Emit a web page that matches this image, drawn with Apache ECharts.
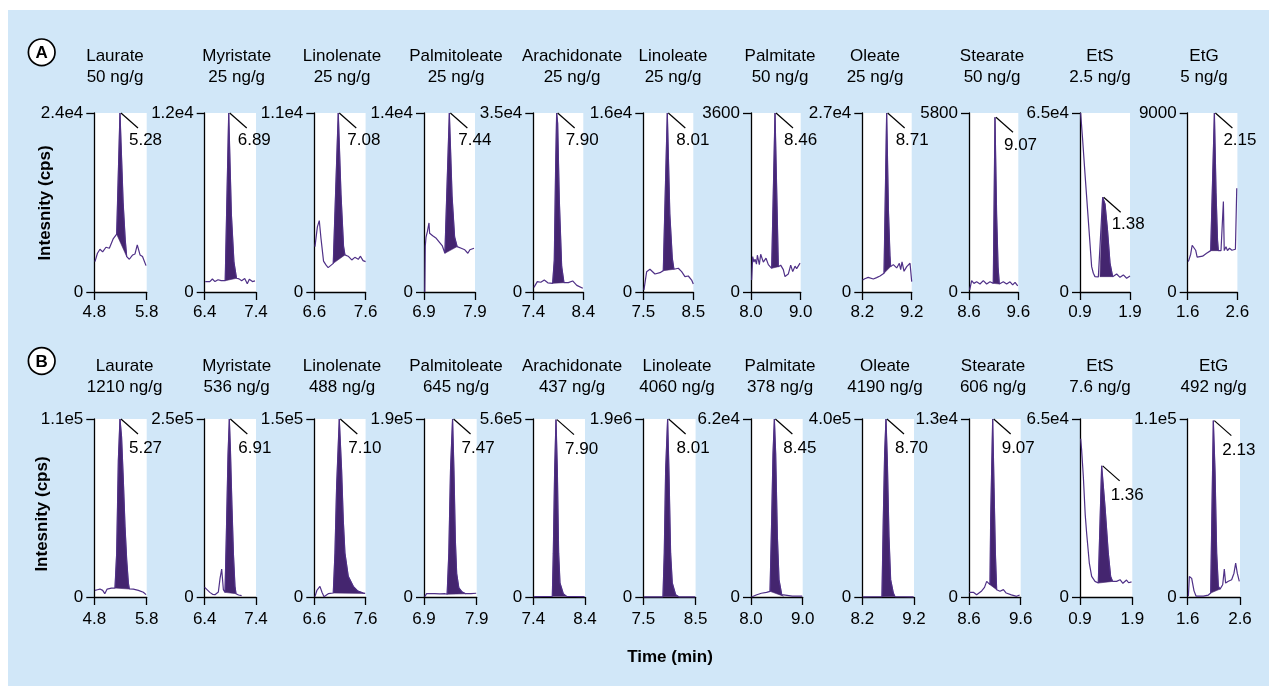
<!DOCTYPE html>
<html><head><meta charset="utf-8">
<script src="https://cdn.jsdelivr.net/npm/echarts@6/dist/echarts.min.js"></script>
<style>
html,body{margin:0;padding:0;background:#fff;width:1269px;height:686px;overflow:hidden}
#bg{position:absolute;left:8px;top:10px;right:0;bottom:0;background:#d1e7f8}
#chart{position:absolute;left:0;top:0;width:1269px;height:686px}
</style></head><body><div id="bg"></div><div id="chart"></div>
<script>
// ---------- data ----------
const compounds = ['Laurate','Myristate','Linolenate','Palmitoleate','Arachidonate','Linoleate','Palmitate','Oleate','Stearate','EtS','EtG'];
const concA = ['50 ng/g','25 ng/g','25 ng/g','25 ng/g','25 ng/g','25 ng/g','50 ng/g','25 ng/g','50 ng/g','2.5 ng/g','5 ng/g'];
const concB = ['1210 ng/g','536 ng/g','488 ng/g','645 ng/g','437 ng/g','4060 ng/g','378 ng/g','4190 ng/g','606 ng/g','7.6 ng/g','492 ng/g'];
const xMin = [4.8,6.4,6.6,6.9,7.4,7.5,8.0,8.2,8.6,0.9,1.6];
const xMax = [5.8,7.4,7.6,7.9,8.4,8.5,9.0,9.2,9.6,1.9,2.6];
const yTopA = ['2.4e4','1.2e4','1.1e4','1.4e4','3.5e4','1.6e4','3600','2.7e4','5800','6.5e4','9000'];
const yTopB = ['1.1e5','2.5e5','1.5e5','1.9e5','5.6e5','1.9e6','6.2e4','4.0e5','1.3e4','6.5e4','1.1e5'];
const rtA = ['5.28','6.89','7.08','7.44','7.90','8.01','8.46','8.71','9.07','1.38','2.15'];
const rtB = ['5.27','6.91','7.10','7.47','7.90','8.01','8.45','8.70','9.07','1.36','2.13'];
// peak integration windows [start, end] (min)
const peakA = [[5.227,5.418],[6.80,7.02],[6.97,7.197],[7.31,7.55],[7.787,8.013],[7.9,8.113],[8.416,8.55],[8.64,8.774],[9.093,9.215],[1.30,1.553],[2.063,2.217]];
const peakB = [[5.195,5.469],[6.796,7.01],[6.97,7.59],[7.339,7.69],[7.768,8.045],[7.876,8.18],[8.368,8.626],[8.58,8.832],[9.006,9.135],[1.25,1.524],[2.04,2.218]];

// chromatogram traces [time (min), intensity (cps)]  — panel A
const A_laurate = [[4.813,4080],[4.86,5200],[4.908,5730],[4.959,5370],[5.023,6000],[5.087,5870],[5.163,7160],[5.227,7750],[5.29,24000],[5.35,12000],[5.39,7000],[5.418,4750],[5.469,4390],[5.532,4970],[5.577,5100],[5.62,6310],[5.673,4970],[5.72,4750],[5.787,3540]];
const A_myristate = [[6.41,690],[6.5,700],[6.55,870],[6.6,700],[6.66,820],[6.72,760],[6.80,760],[6.868,12000],[6.92,5200],[6.97,2000],[7.02,920],[7.07,880],[7.12,760],[7.18,900],[7.23,560],[7.27,850],[7.33,700],[7.38,750]];
const A_linolenate = [[6.613,2790],[6.66,4000],[6.697,4390],[6.73,3300],[6.78,1900],[6.83,1650],[6.87,1500],[6.905,1560],[6.97,1760],[7.067,11000],[7.12,6000],[7.17,2800],[7.197,2280],[7.26,2200],[7.33,1970],[7.39,2130],[7.457,2010],[7.5,2200],[7.55,1930],[7.6,1870]];
const A_palmitoleate = [[6.915,0],[6.925,3600],[6.94,4300],[6.965,4700],[6.998,5400],[7.01,4600],[7.04,4500],[7.07,4400],[7.14,4200],[7.2,3900],[7.26,3600],[7.31,3030],[7.397,14000],[7.45,7500],[7.50,4300],[7.55,3550],[7.63,3420],[7.70,3300],[7.76,3030],[7.8,3300],[7.88,3420]];
const A_arachidonate = [[7.413,910],[7.48,2030],[7.55,1900],[7.62,2350],[7.69,1800],[7.787,1700],[7.82,6270],[7.847,24500],[7.867,35000],[7.887,33000],[7.92,18000],[7.967,5000],[8.013,1830],[8.1,1830],[8.187,2160],[8.27,1300],[8.39,720]];
const A_linoleate = [[7.513,180],[7.567,1820],[7.633,2030],[7.733,1610],[7.833,1730],[7.9,1910],[7.94,9000],[7.98,16000],[8.03,7000],[8.08,3000],[8.113,2030],[8.2,2120],[8.267,1820],[8.333,1370],[8.4,1430],[8.467,1070],[8.5,720]];
const A_palmitate = [[8.013,242],[8.034,712],[8.06,600],[8.081,660],[8.11,560],[8.128,740],[8.168,550],[8.195,760],[8.248,600],[8.302,680],[8.349,550],[8.416,477],[8.483,3600],[8.55,510],[8.597,540],[8.65,450],[8.684,310],[8.75,360],[8.799,540],[8.839,410],[8.886,520],[8.919,470],[8.987,580]];
const A_oleate = [[8.207,1810],[8.25,2000],[8.289,1960],[8.32,2200],[8.356,2120],[8.423,1960],[8.49,2170],[8.558,2420],[8.59,2270],[8.64,2820],[8.693,27000],[8.73,12000],[8.76,5500],[8.774,3830],[8.828,4130],[8.896,3630],[8.95,4330],[8.977,3380],[9.004,4530],[9.045,3130],[9.099,3830],[9.166,4330],[9.2,1560]];
const A_stearate = [[8.614,65],[8.654,370],[8.7,280],[8.755,330],[8.823,260],[8.89,370],[8.958,260],[9.026,330],[9.093,280],[9.127,5660],[9.16,2500],[9.19,800],[9.215,260],[9.296,330],[9.364,260],[9.432,330],[9.486,230],[9.534,310],[9.588,200]];
const A_ets = [[0.913,65000],[0.95,56000],[1.0,42900],[1.05,30200],[1.1,17500],[1.133,9200],[1.167,6800],[1.2,5580],[1.267,5500],[1.30,5580],[1.353,34400],[1.40,32000],[1.45,22500],[1.50,10500],[1.553,5580],[1.633,6540],[1.7,5330],[1.767,6200],[1.833,4980],[1.9,5840]];
const A_etg = [[1.613,1530],[1.66,1900],[1.69,2350],[1.728,2450],[1.76,2100],[1.79,1750],[1.83,1700],[1.9,1800],[1.98,1950],[2.063,2080],[2.137,9000],[2.17,5000],[2.2,2600],[2.217,2080],[2.27,2080],[2.30,2080],[2.318,4550],[2.335,2080],[2.37,2280],[2.40,2080],[2.44,2200],[2.49,2100],[2.53,2150],[2.56,2150],[2.587,5220]];
// panel B
const B_laurate = [[4.813,4100],[4.86,4500],[4.908,4900],[4.96,4100],[5.0,2050],[5.045,4900],[5.127,5500],[5.195,5540],[5.227,27000],[5.259,84600],[5.29,110000],[5.32,99000],[5.354,72000],[5.386,43500],[5.418,23000],[5.45,8600],[5.469,4930],[5.545,4900],[5.641,4100],[5.736,2900],[5.787,1440]];
const B_myristate = [[6.40,13500],[6.45,10000],[6.50,6500],[6.56,3500],[6.60,3260],[6.666,7000],[6.70,26600],[6.731,39200],[6.764,10300],[6.796,6500],[6.82,80000],[6.855,200000],[6.88,250000],[6.90,210000],[6.93,130000],[6.96,60000],[6.99,15000],[7.01,4660],[7.06,2800],[7.12,2000]];
const B_linolenate = [[6.613,300],[6.65,5500],[6.71,8950],[6.75,4000],[6.79,300],[6.83,1500],[6.873,2800],[6.97,3360],[7.003,37000],[7.035,93000],[7.087,150000],[7.132,107000],[7.165,64500],[7.197,37000],[7.262,17400],[7.36,9000],[7.45,5000],[7.555,3360],[7.59,3000]];
const B_palmitoleate = [[6.913,400],[6.95,3540],[6.984,3540],[7.1,3500],[7.2,3400],[7.30,3500],[7.339,3000],[7.371,46700],[7.403,135000],[7.442,190000],[7.468,135000],[7.495,60000],[7.52,25000],[7.56,10000],[7.62,5500],[7.69,3500],[7.79,3500],[7.89,4000]];
const B_arachidonate = [[7.41,1000],[7.6,1500],[7.768,2000],[7.787,138000],[7.813,398000],[7.839,558000],[7.865,398000],[7.89,138000],[7.916,44000],[7.98,10400],[8.045,2000],[8.2,1500],[8.39,1000]];
const B_linoleate = [[7.51,1000],[7.7,1500],[7.876,2000],[7.901,468000],[7.927,1350000],[7.965,1900000],[7.99,1350000],[8.022,468000],[8.054,149000],[8.118,25000],[8.18,2000],[8.3,1500],[8.49,1000]];
const B_palmitate = [[8.01,0],[8.1,700],[8.2,1300],[8.3,1600],[8.368,1970],[8.40,26800],[8.426,50000],[8.452,62000],[8.477,50000],[8.51,21000],[8.542,6000],[8.594,800],[8.626,300],[8.8,300],[8.99,300]];
const B_oleate = [[8.21,500],[8.4,600],[8.58,800],[8.606,173000],[8.632,322000],[8.658,400000],[8.684,307000],[8.716,136000],[8.748,39000],[8.8,9000],[8.832,1000],[9.0,600],[9.19,500]];
const B_stearate = [[8.606,340],[8.684,340],[8.748,160],[8.845,440],[8.90,700],[8.942,1140],[8.98,1000],[9.006,900],[9.019,5600],[9.058,13000],[9.084,8000],[9.11,3200],[9.135,530],[9.2,420],[9.265,540],[9.32,290],[9.42,160],[9.52,50],[9.58,150]];
const B_ets = [[0.913,57800],[0.93,54000],[0.964,43900],[1.0,30000],[1.027,23300],[1.078,12400],[1.123,7500],[1.187,5700],[1.25,5090],[1.314,47900],[1.378,33000],[1.441,16000],[1.486,7500],[1.524,5700],[1.6,5700],[1.666,6300],[1.72,5000],[1.79,6200],[1.83,5200],[1.885,5500]];
const B_etg = [[1.613,500],[1.632,12700],[1.676,11500],[1.721,3800],[1.759,600],[1.9,500],[1.995,1200],[2.04,2460],[2.09,109000],[2.122,78000],[2.154,27000],[2.186,6600],[2.218,4900],[2.269,7600],[2.30,17200],[2.325,8600],[2.377,9700],[2.44,10700],[2.485,14700],[2.517,20900],[2.548,14700],[2.587,9700]];

const tracesA = [A_laurate,A_myristate,A_linolenate,A_palmitoleate,A_arachidonate,A_linoleate,A_palmitate,A_oleate,A_stearate,A_ets,A_etg];
const tracesB = [B_laurate,B_myristate,B_linolenate,B_palmitoleate,B_arachidonate,B_linoleate,B_palmitate,B_oleate,B_stearate,B_ets,B_etg];

// ---------- layout ----------
const FONT = 'Liberation Sans';
const LINE = '#4f3087';
const FILL = '#44256f';
const gridLeft = [94.3,204.7,314.3,424,533.3,643.3,751,862.3,969,1080,1187.7];
const rows = [
  {top:113, h:179, traces:tracesA, peaks:peakA, yTop:yTopA, rt:rtA, conc:concA, gw:[52.4,51.3,51.3,51,50,50,49.7,49.4,49.3,50,49.7],
   titleX:[115,236.7,342,456,572,673,780,875,992,1100,1204], titleY:46, letter:'A', letterY:52.3, ytX:45, ytY:203, xMargin:12, rtDy:19},
  {top:419, h:178, traces:tracesB, peaks:peakB, yTop:yTopB, rt:rtB, conc:concB, gw:[52.4,51.3,51.3,52.7,51.7,52.3,51.7,51.7,51.7,52.3,52.3],
   titleX:[124.6,236.7,342,456,572,677,780,885,993,1100,1213.7], titleY:356, letter:'B', letterY:361, ytX:42, ytY:514, xMargin:14, rtDy:21}
];

const grid=[], xAxis=[], yAxis=[], series=[], graphic=[];
let k = 0;
rows.forEach((row) => {
  for (let c = 0; c < 11; c++) {
    const ymax = Number(row.yTop[c]);
    const lbl = row.yTop[c];
    grid.push({left:gridLeft[c], top:row.top, width:row.gw[c], height:row.h, show:true, backgroundColor:'#fff', borderWidth:0});
    xAxis.push({type:'value', gridIndex:k, min:xMin[c], max:xMax[c],
      axisLine:{show:true, onZero:false, lineStyle:{color:'#000', width:1.3}},
      axisTick:{show:true, length:8, customValues:[xMin[c], xMax[c]], lineStyle:{color:'#000', width:1.3}},
      axisLabel:{show:true, customValues:[xMin[c], xMax[c]], formatter:(v)=>v.toFixed(1), color:'#000', fontSize:17, fontFamily:FONT, margin:row.xMargin},
      splitLine:{show:false}});
    yAxis.push({type:'value', gridIndex:k, min:0, max:ymax,
      axisLine:{show:true, onZero:false, lineStyle:{color:'#000', width:1.3}},
      axisTick:{show:true, length:8, customValues:[0, ymax], lineStyle:{color:'#000', width:1.3}},
      axisLabel:{show:true, customValues:[0, ymax], formatter:(v)=> v===0 ? '0' : lbl, color:'#000', fontSize:17, fontFamily:FONT, margin:11},
      splitLine:{show:false}});
    const tr = row.traces[c];
    const pk = row.peaks[c];
    const pts = tr.filter(p => p[0] >= pk[0]-1e-9 && p[0] <= pk[1]+1e-9);
    let apex = pts[0];
    pts.forEach(p => { if (p[1] > apex[1]) apex = p; });
    series.push({type:'custom', xAxisIndex:k, yAxisIndex:k, silent:true, clip:false, data:pts, z:2,
      renderItem:(params, api) => {
        if (params.dataIndex !== 0) return null;
        return {type:'polygon', shape:{points: pts.map(p => api.coord(p))}, style:{fill:FILL, stroke:FILL, lineWidth:0.6}};
      }});
    series.push({type:'line', xAxisIndex:k, yAxisIndex:k, data:tr, showSymbol:false, symbol:'none', silent:true, clip:false, z:3,
      lineStyle:{color:LINE, width:1.2}});
    const rtLabel = row.rt[c];
    const rtDy = row.rtDy;
    series.push({type:'custom', xAxisIndex:k, yAxisIndex:k, silent:true, clip:false, data:[apex], z:4,
      renderItem:(params, api) => {
        const p = api.coord([api.value(0), api.value(1)]);
        return {type:'group', children:[
          {type:'line', shape:{x1:p[0]+1, y1:p[1], x2:p[0]+18, y2:p[1]+15}, style:{stroke:'#000', lineWidth:1.2}},
          {type:'text', x:p[0]+9, y:p[1]+rtDy, style:{text:rtLabel, fontSize:17, fontFamily:FONT, fill:'#000', align:'left', verticalAlign:'top'}}
        ]};
      }});
    graphic.push({type:'text', x:row.titleX[c], y:row.titleY, style:{text:compounds[c]+'\n'+row.conc[c], align:'center', verticalAlign:'top', fontSize:17, lineHeight:21, fontFamily:FONT, fill:'#000'}});
    k++;
  }
  graphic.push({type:'circle', shape:{cx:41.7, cy:row.letterY, r:13.3}, style:{fill:'#fff', stroke:'#000', lineWidth:1.7}});
  graphic.push({type:'text', x:41.7, y:row.letterY+1, style:{text:row.letter, align:'center', verticalAlign:'middle', fontSize:17, fontWeight:'bold', fontFamily:FONT, fill:'#000'}});
  graphic.push({type:'text', x:row.ytX, y:row.ytY, rotation:Math.PI/2, style:{text:'Intesnity (cps)', align:'center', verticalAlign:'middle', fontSize:17, fontWeight:'bold', fontFamily:FONT, fill:'#000'}});
});
graphic.push({type:'text', x:670, y:657, style:{text:'Time (min)', align:'center', verticalAlign:'middle', fontSize:17, fontWeight:'bold', fontFamily:FONT, fill:'#000'}});

const chart = echarts.init(document.getElementById('chart'), null, {renderer:'canvas'});
chart.setOption({backgroundColor:'transparent', animation:false, grid, xAxis, yAxis, series, graphic});
</script></body></html>
